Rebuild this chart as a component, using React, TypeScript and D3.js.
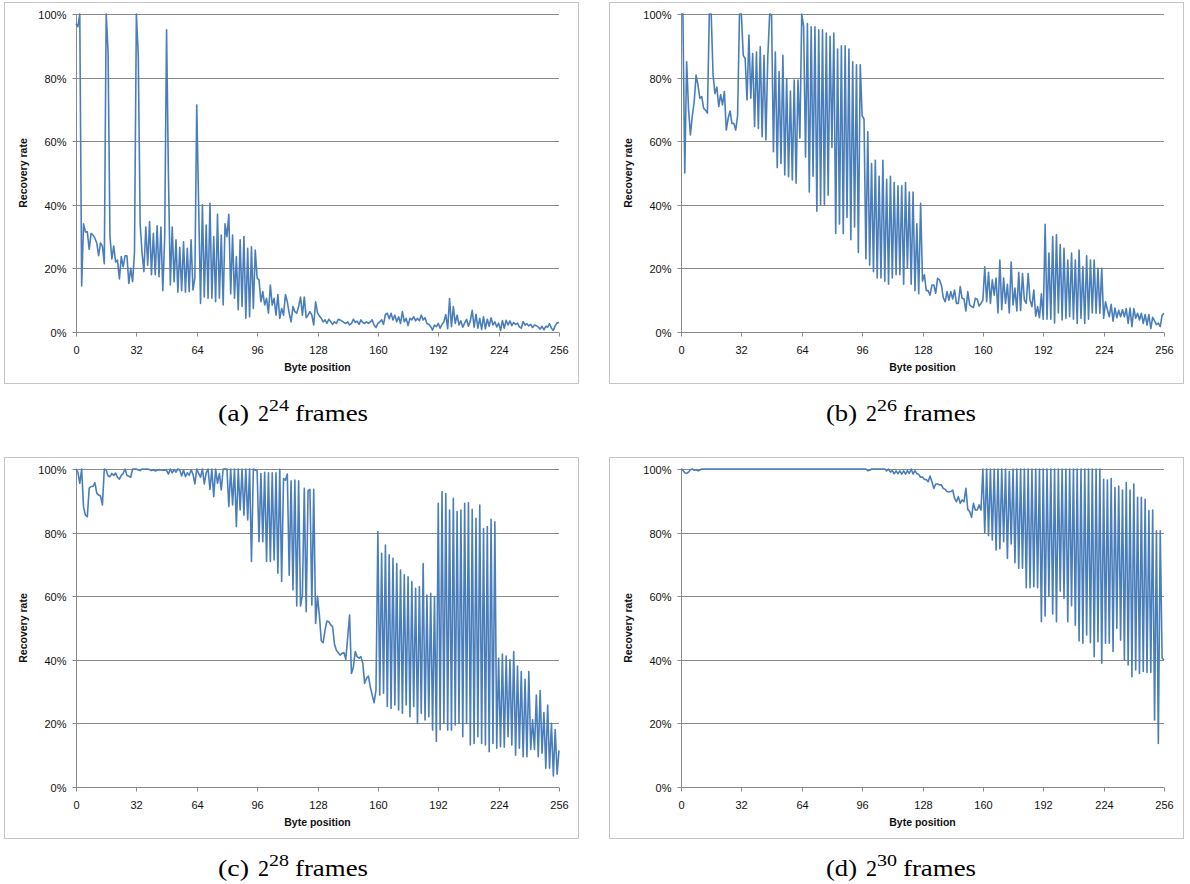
import React from "react";
import * as d3 from "d3";

// Byte positions 0..256, recovery rate in %
const dataA: number[] = [
  97, 96, 100, 14.5, 34, 31.5, 31.5, 26, 31, 30.5,
  29.5, 28, 24, 28, 27, 21.5, 100, 88, 30, 23,
  27, 22, 22.6, 16.7, 23.7, 20.5, 24, 24, 15.3, 20,
  15.8, 25, 100, 87, 34, 25, 19, 33, 21, 34.7,
  18, 31, 18, 33.4, 17.4, 33, 13, 29.5, 95, 49,
  14.8, 33, 15.8, 29, 12.5, 26.6, 13, 28.4, 12.5, 26.3,
  12.7, 29, 13.2, 17, 71.4, 40, 9, 40, 11, 33.6,
  10.6, 40.5, 10.6, 30, 9.5, 37, 10.6, 30.5, 8.5, 34,
  30, 37, 12, 30.5, 10.6, 23.7, 7, 29, 8, 30,
  4.3, 26.3, 4.8, 26.8, 7.4, 25.8, 17, 16.4, 9.5, 12.7,
  8.5, 10.6, 5.9, 14.8, 8.5, 10.6, 5.3, 11.8, 4.3, 7.4,
  5.3, 11.8, 9.5, 5.9, 3.2, 8, 6.4, 5.9, 8, 11,
  5.3, 11, 4.5, 5.3, 6.4, 5.3, 2.2, 9.5,
  6, 5, 4.3, 3.2, 3.8, 2.7, 4, 3.2, 2.4, 3.2,
  2.7, 4, 3.8, 3.4, 3, 2.7, 3.2, 2.2, 2.7, 4,
  3, 3.4, 2.4, 3.8, 3, 2.7, 3.2, 2.7, 3.2, 3.8,
  2.2, 1.4, 2.7, 3.2, 3.8, 2.4, 5.5, 5.9, 4.2, 5.9,
  3.8, 5.3, 3.2, 4.8, 2.7, 6.4, 3.2, 4.3, 2, 4.3,
  3.8, 4.8, 3.5, 4.3, 3.5, 5.3, 3.8, 4.5, 2.7, 2.4,
  1.7, 0.6, 2.2, 1.7, 2.7, 1.2, 2.4, 3.2, 5.5, 1,
  10.5, 1.7, 8, 2.7, 5.3, 2.2, 3.5, 1.5, 2.8, 4,
  1.8, 3.5, 6.8, 1.5, 5.6, 1.2, 4.3, 0.8, 4.8, 1,
  4, 1.8, 4.5, 2.2, 3.2, 1.6, 2.8, 0.5, 3.6, 1.2,
  3.7, 2.2, 3.5, 2, 3, 2.4, 2.8, 1.6, 1.2, 3.3,
  2.2, 2.6, 1.9, 2.4, 1.4, 2.2, 2, 1.6, 0.9, 1.8,
  0.7, 1.8, 1.5, 2.6, 1.2, 0.5, 2, 2.8, 3,
];

const dataB: number[] = [
  100, 100, 50, 85, 70, 62, 68, 72.4, 80.8, 77.7,
  73.5, 74, 70.3, 69.8, 68.8, 100, 100, 80.8, 75, 77,
  70.9, 74.7, 71.4, 75.6, 63.5, 67.2, 69.5, 65.6, 65.6, 63.5,
  68, 100, 100, 87, 86, 73, 93.4, 73.5, 87.6, 64.6,
  88, 64, 89.7, 61.4, 87, 60.4, 86.6, 100, 99.7, 56.7,
  88, 51.7, 81.9, 53, 87, 49.4, 79.6, 48.8, 75.8, 47.8,
  79.2, 46.8, 79.2, 61, 100, 96, 55, 97, 44, 96,
  49, 96, 38, 95, 40, 95, 40, 94, 43, 93,
  58, 94, 31, 89, 34, 90, 31, 90, 36, 89,
  29, 85, 33, 84, 25, 84, 68, 67, 23, 63,
  21, 53, 19, 54, 17, 49, 17, 54, 16, 48,
  15, 49, 17, 47, 18, 46, 18, 46, 15, 47,
  20, 44, 15, 44, 13, 34, 12, 40.5,
  16, 18, 13, 13, 11.6, 14.8, 14.8, 12.2, 16.9, 16.4,
  14.8, 10.8, 9.5, 12.7, 10, 12.7, 10.4, 13.2, 9, 9,
  14.3, 10.6, 10.4, 6.6, 12.7, 8.5, 8, 7.7, 10.6, 10.3,
  8.2, 9, 10, 20.5, 9.5, 18.8, 9, 16.4, 11.6, 17,
  6, 22.6, 7, 17, 9, 15, 6, 22, 8.5, 13.8,
  6.6, 18.8, 6.8, 18.4, 10, 9, 18.4, 10, 8, 13.2,
  5, 8, 4.5, 12, 4, 33.9, 4, 24.8, 4, 30,
  2.8, 30.6, 6, 27.5, 3.8, 26.3, 4.3, 22.6, 4.8, 24.8,
  4, 22.6, 2.7, 25.8, 4.3, 20.5, 2.7, 24, 4, 22.6,
  6, 22.6, 5.9, 20, 5.9, 20, 4.3, 9.5, 7, 4.8,
  8.7, 3.4, 7.5, 4.5, 6.8, 4.8, 7, 4.8, 7.3, 2.7,
  7.5, 1.7, 7.4, 4.3, 5.9, 3.8, 5.9, 2.7, 5.5, 2.2,
  5.5, 1.1, 4.6, 3.5, 2.3, 2.8, 1.7, 5.3, 5.9,
];

const dataC: number[] = [
  100, 99, 95.5, 100, 88, 85.5, 85, 94, 94.5, 94.5,
  95.7, 92.4, 91.8, 91.5, 88.7, 100, 99.7, 97.8, 97.6, 98.6,
  98, 98.7, 97.4, 96.8, 98, 98.6, 100, 98, 97.7, 97.4,
  100, 100, 100, 99.7, 99.5, 100, 99.9, 100, 100, 99.8,
  99.5, 99.7, 99.4, 99.6, 99.8, 99.7, 99.6, 99.7, 99.6, 98.4,
  100, 98.8, 99.8, 99, 100, 99.7, 97.8, 99.7, 97.6, 98.8,
  98, 99.7, 98.4, 95.3, 100, 98.6, 97.4, 100, 95.3, 98.8,
  100, 93.6, 100, 91.3, 100, 95.5, 98.6, 93.4, 100, 100,
  100, 88.2, 100, 88.7, 100, 81.9, 100, 87.1, 100, 85.5,
  100, 84, 100, 70.9, 100, 99.7, 99.4, 77.1, 98.6, 77.1,
  99, 70.9, 98.8, 70.9, 98.8, 71.4, 98.8, 67.2, 99.9, 64.6,
  97, 96.5, 98.4, 66.6, 96.3, 62, 96.5, 56.9, 96.3, 56.9,
  60.4, 93.9, 55.1, 93.2, 93.6, 57.2, 93.6, 51.4,
  60, 54, 46, 45.4, 49.4, 52.2, 52, 51, 50.4, 45,
  43, 42.2, 41.5, 42, 42.3, 40.2, 47, 54.1, 35.7, 37.7,
  42.6, 41, 40.5, 41, 38.9, 32.6, 34.2, 34.9, 31.5, 28.9,
  26.5, 30.5,
  80.3, 28.9, 73.5, 29.5, 76.1, 25.3, 73, 24.7, 71.9, 25.8,
  70.3, 24.2, 68.2, 23.2, 66.7, 25.8, 66.1, 22.1, 64.6, 25.3,
  62.5, 20, 63, 23.2, 70.3, 21.1, 60.4, 22.1, 60.9, 17.9,
  59.9, 14.3,
  89.2, 18, 92.9, 20, 92.3, 17.9, 87.1, 17.9, 90.8, 19.5,
  86.6, 20, 87.1, 15.8, 89.2, 20, 89.4, 13.2, 87.3, 13.7,
  84.5, 15.8, 88.7, 13.7, 81.3, 13.2, 81.9, 11.1, 84.2, 13.7,
  83.4, 12.2,
  40.5, 12.7, 41.8, 12.5, 41.2, 15.8, 40, 13.2, 42.6, 10,
  38, 12.2, 36.3, 9.5, 33.9, 9.5, 36.3, 11.8, 21.1, 11.8,
  28.9, 9.5, 30.3, 10.6, 23.4, 5.9, 25.8, 5.9, 20, 3.5,
  18.1, 4, 11.5,
];

const dataD: number[] = [
  100, 99.6, 98.8, 98.6, 99, 99.8, 100, 99.6, 99.8, 99.4,
  99.7, 100, 100, 100, 100, 100, 100, 100, 100, 100,
  100, 100, 100, 100, 100, 100, 100, 100, 100, 100,
  100, 100, 100, 100, 100, 100, 100, 100, 100, 100,
  100, 100, 100, 100, 100, 100, 100, 100, 100, 100,
  100, 100, 100, 100, 100, 100, 100, 100, 100, 100,
  100, 100, 100, 100, 100, 100, 100, 100, 100, 100,
  100, 100, 100, 100, 100, 100, 100, 100, 100, 100,
  100, 100, 100, 100, 100, 100, 100, 100, 100, 100,
  100, 100, 100, 100, 100, 100, 100, 100, 100, 99.5,
  99.6, 100, 100, 100, 100, 100, 100, 100, 100, 99.4,
  100, 99, 99.5, 98.5, 99.4, 98.5, 99.4, 98.4, 99.4, 98.4,
  99.5, 98.6, 100, 98.4, 99.5, 98.6, 98.3, 97.4,
  97.5, 96.7, 96.7, 96, 97.8, 96, 93.9, 95.3, 95.3, 95,
  95, 93.9, 93.6, 92.9, 92.8, 92.9, 93.4, 90.8, 89.7, 91.3,
  89.2, 90.3, 89.7, 93.9, 87.3, 86.6, 84.8, 89.2, 87.1, 87.1,
  88.7, 87.1,
  100, 80, 100, 79, 100, 77.7, 100, 74.5, 100, 74.9,
  100, 77.1, 100, 71.9, 99.2, 76.4, 100, 70.5, 100, 68.8,
  100, 68.8, 100, 62.7, 100, 62.7, 100, 63, 100, 62.7,
  100, 52, 100, 53.8, 100, 59.9, 100, 54.4, 100, 52,
  100, 61.6, 100, 59.3, 100, 52, 100, 57, 100, 50.9,
  100, 45.9, 100, 45.2, 100, 47.8, 100, 45.4, 100, 41,
  100, 45.7, 100, 38.9,
  96.8, 45.2, 96.5, 45.2, 97, 42.6, 94.2, 49.9, 94.6, 46.2,
  93.4, 39.9, 95.7, 38.4, 93.4, 34.7, 95.3, 36.8, 91.1, 35.7,
  91.1, 36.3, 90.5, 36, 86.9, 36, 87.1, 21.1, 80.6, 13.7,
  80.6, 40.5, 40,
];

const xTicks: number[] = [0, 32, 64, 96, 128, 160, 192, 224, 256];
const yTicks: number[] = [0, 20, 40, 60, 80, 100];
const captionLetters: string[] = ["(a)", "(b)", "(c)", "(d)"];
const captionExponents: string[] = ["24", "26", "28", "30"];
const seriesList: number[][] = [dataA, dataB, dataC, dataD];

const PW = 483;
const PH = 318;
const layout = [
  { px: 76, py: 14, fx: 4.5, fy: 2.5, cx: 293, cy: 421 },
  { px: 681, py: 14, fx: 609.5, fy: 2.5, cx: 901, cy: 421 },
  { px: 76, py: 469, fx: 4.5, fy: 457.5, cx: 293, cy: 876 },
  { px: 681, py: 469, fx: 609.5, fy: 457.5, cx: 901, cy: 876 },
];

const SANS = "'Liberation Sans', Arial, sans-serif";
const SERIF = "'Liberation Serif', 'Times New Roman', serif";

function Panel({ idx }: { idx: number }) {
  const L = layout[idx];
  const data = seriesList[idx];
  const n = data.length;
  const x = d3.scaleLinear().domain([0, 256]).range([L.px, L.px + PW]);
  const y = d3.scaleLinear().domain([0, 100]).range([L.py + PH, L.py]);
  const line = d3
    .line<number>()
    .x((_, i) => x((i * 256) / (n - 1)))
    .y((d) => y(d));
  const x0 = Math.round(x(0)) + 0.5;
  const yBase = Math.round(y(0)) + 0.5;
  return (
    <g>
      <rect x={L.fx} y={L.fy} width={574} height={381} fill="#fff" stroke="#c4c4c4" strokeWidth={1} />
      {yTicks.map((t) => {
        const yy = Math.round(y(t)) + 0.5;
        return (
          <g key={"y" + t}>
            <line x1={x0 - 4} x2={x(256)} y1={yy} y2={yy} stroke="#8a8a8a" strokeWidth={1} />
            <text
              x={x0 - 10}
              y={yy}
              textAnchor="end"
              dominantBaseline="central"
              fontFamily={SANS}
              fontSize={11}
              fill="#111"
            >
              {t + "%"}
            </text>
          </g>
        );
      })}
      <line x1={x0} x2={x0} y1={y(100)} y2={yBase} stroke="#8a8a8a" strokeWidth={1} />
      {xTicks.map((t) => {
        const xx = Math.round(x(t)) + 0.5;
        return (
          <g key={"x" + t}>
            <line x1={xx} x2={xx} y1={yBase} y2={yBase + 4} stroke="#8a8a8a" strokeWidth={1} />
            <text
              x={xx}
              y={yBase + 21}
              textAnchor="middle"
              fontFamily={SANS}
              fontSize={11}
              fill="#111"
            >
              {t}
            </text>
          </g>
        );
      })}
      <path d={line(data) || ""} fill="none" stroke="#4a7ebb" strokeWidth={1.6} strokeLinejoin="round" />
      <text
        x={L.px + PW / 2}
        y={yBase + 38}
        textAnchor="middle"
        fontFamily={SANS}
        fontSize={10.5}
        fontWeight="bold"
        fill="#111"
      >
        Byte position
      </text>
      <text
        transform={`translate(${L.px - 49},${L.py + PH / 2}) rotate(-90)`}
        textAnchor="middle"
        fontFamily={SANS}
        fontSize={10.5}
        fontWeight="bold"
        fill="#111"
      >
        Recovery rate
      </text>
      <g fontFamily={SERIF} fill="#000">
        <text x={L.cx - 75} y={L.cy} fontSize={24} textLength={31} lengthAdjust="spacingAndGlyphs">
          {captionLetters[idx]}
        </text>
        <text x={L.cx - 35} y={L.cy} fontSize={24} textLength={11} lengthAdjust="spacingAndGlyphs">
          2
        </text>
        <text x={L.cx - 24} y={L.cy - 10} fontSize={17} textLength={20} lengthAdjust="spacingAndGlyphs">
          {captionExponents[idx]}
        </text>
        <text x={L.cx + 2} y={L.cy} fontSize={24} textLength={73} lengthAdjust="spacingAndGlyphs">
          frames
        </text>
      </g>
    </g>
  );
}

export default function App() {
  return (
    <svg
      width={1190}
      height={884}
      style={{ position: "absolute", left: 0, top: 0, background: "#fff" }}
    >
      {[0, 1, 2, 3].map((i) => (
        <Panel key={i} idx={i} />
      ))}
    </svg>
  );
}
